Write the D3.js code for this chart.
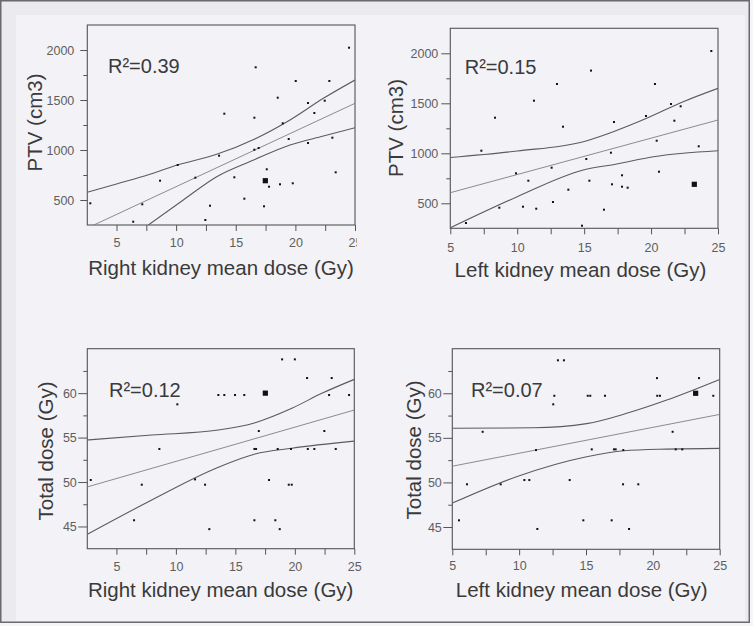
<!DOCTYPE html>
<html><head><meta charset="utf-8">
<script src="https://cdn.jsdelivr.net/npm/d3@7"></script>
<style>body{margin:0;background:#f4f4f6}svg{display:block}</style>
</head><body><svg id="c" width="753" height="626"></svg>
<script>
// ---------- data ----------
const rightDoseTicks = [5, 10, 15, 20, 25];
const leftDoseTicks = [5, 10, 15, 20, 25];
const doseMinorTicks = [7.5, 12.5, 17.5, 22.5];
const ptvTicks = [500, 1000, 1500, 2000];
const ptvMinorTicks = [750, 1250, 1750];
const totalTicks = [45, 50, 55, 60];
const totalMinorTicks = [47.5, 52.5, 57.5, 62.5];

// Panel 1: PTV vs right kidney mean dose
const p1X = [2.8, 6.4, 7.16, 8.65, 10.13, 11.61, 12.45, 12.84, 13.6, 14.04, 14.88, 15.72, 16.56, 16.67, 16.56, 16.92, 17.37, 17.6, 17.79, 18.52, 18.71, 18.94, 19.44, 19.78, 20.03, 21.06, 21.06, 21.59, 22.46, 22.85, 23.1, 23.38, 24.5];
const p1Y = [467, 283, 457, 693, 850, 723, 300, 443, 943, 1363, 727, 513, 1323, 1827, 1003, 1020, 437, 807, 633, 1523, 657, 1267, 1110, 667, 1690, 1470, 1070, 1370, 1493, 1690, 1123, 777, 2023];
const p1Big = [17.48, 693];
const p1Upper = [[2.55,577],[5,660],[7.8,757],[10.1,850],[13.4,957],[16.6,1110],[19.55,1300],[22.35,1517],[25,1700]];
const p1Fit = [[3.1,250],[25,1467]];
const p1Lower = [[7.67,250],[10.6,500],[13.4,733],[16.5,900],[19.55,1050],[22.35,1140],[25,1223]];

// Panel 2: PTV vs left kidney mean dose
const p2X = [6.17, 7.32, 8.34, 8.66, 9.91, 10.43, 10.83, 11.25, 11.42, 12.57, 12.67, 12.97, 13.42, 13.82, 14.84, 15.16, 15.39, 15.51, 16.48, 17.0, 17.08, 17.23, 17.83, 17.83, 18.25, 19.62, 20.29, 20.42, 20.59, 21.49, 21.74, 22.21, 23.56, 24.5];
const p2Y = [303, 1026, 1356, 456, 800, 466, 726, 1526, 446, 856, 513, 1693, 1266, 636, 276, 943, 726, 1827, 436, 1006, 690, 1313, 780, 666, 656, 1373, 1693, 1126, 816, 1493, 1326, 1470, 1070, 2023];
const p2Big = [23.23, 690];
const p2Upper = [[5,958],[10,1023],[14.94,1116],[17.18,1216],[19.67,1350],[22.4,1516],[25,1650]];
const p2Fit = [[5,606],[25,1333]];
const p2Lower = [[5,255],[10,566],[14.94,833],[17.43,893],[20.17,966],[25,1026]];

// Panel 3: Total dose vs right kidney mean dose
const p3X = [2.84, 6.48, 7.13, 8.61, 10.12, 11.61, 12.45, 12.81, 13.57, 14.07, 14.97, 15.75, 16.6, 16.74, 16.6, 16.97, 17.83, 18.36, 18.56, 18.73, 18.93, 19.49, 19.68, 19.74, 20.0, 21.03, 21.09, 21.64, 22.48, 22.88, 23.1, 23.44, 24.56];
const p3Y = [50.23, 45.7, 49.7, 53.72, 58.74, 50.3, 49.7, 44.7, 59.79, 59.79, 59.79, 59.79, 53.72, 53.72, 45.7, 55.74, 50.23, 45.7, 53.72, 44.7, 63.8, 49.7, 53.72, 49.7, 63.8, 61.7, 53.72, 53.72, 55.74, 59.79, 61.7, 53.72, 59.79];
const p3Big = [17.52, 60];
const p3Upper = [[2.55,54.73],[7.97,55.29],[13.57,55.85],[16.66,56.68],[19.75,58.3],[22.27,59.98],[25,61.55]];
const p3Fit = [[2.55,49.45],[25,58.1]];
const p3Lower = [[2.55,44.12],[7.97,47.98],[13.57,51.66],[16.66,53.15],[19.75,53.8],[25,54.6]];

// Panel 4: Total dose vs left kidney mean dose
const p4X = [5.5, 6.1, 7.27, 8.62, 10.39, 10.76, 11.26, 11.36, 12.55, 12.63, 12.9, 13.35, 13.78, 14.8, 15.13, 15.32, 15.43, 16.42, 16.92, 17.09, 17.22, 17.77, 17.79, 18.22, 18.91, 20.31, 20.33, 20.53, 21.48, 21.71, 22.2, 23.45, 24.52];
const p4Y = [45.75, 49.79, 55.68, 49.79, 50.27, 50.27, 53.63, 44.78, 58.76, 59.72, 63.7, 63.7, 50.27, 45.75, 59.72, 59.72, 53.71, 59.72, 45.75, 53.71, 53.71, 49.79, 53.63, 44.78, 49.79, 61.7, 59.72, 59.72, 55.68, 53.71, 53.71, 61.7, 59.72];
const p4Big = [23.2, 60];
const p4Upper = [[5,56.07],[11.06,56.13],[15.05,56.6],[18.04,57.75],[21.04,59.24],[25,61.55]];
const p4Fit = [[5,51.82],[25,57.63]];
const p4Lower = [[5,47.68],[9.8,50.64],[15.05,52.88],[17.8,53.55],[21.04,53.74],[25,53.82]];

const r2Labels = ["R\u00b2=0.39", "R\u00b2=0.15", "R\u00b2=0.12", "R\u00b2=0.07"];
const xLabels = ["Right kidney mean dose (Gy)", "Left kidney mean dose (Gy)", "Right kidney mean dose (Gy)", "Left kidney mean dose (Gy)"];
const yLabels = ["PTV (cm3)", "PTV (cm3)", "Total dose (Gy)", "Total dose (Gy)"];

// ---------- drawing ----------
const FONT = "'Liberation Sans', Arial, sans-serif";
const svg = d3.select("#c");
svg.append("rect").attr("width", 753).attr("height", 626).attr("fill", "#f5f5f7");
svg.append("rect").attr("x", 0.75).attr("y", 0.75).attr("width", 748.5).attr("height", 621.5)
  .attr("fill", "#eaeaef").attr("stroke", "#6a6a6a").attr("stroke-width", 1.5);
svg.append("rect").attr("x", 16).attr("y", 15).attr("width", 729).attr("height", 606).attr("fill", "#f2f2f7");

const panels = [
  {xs:p1X, ys:p1Y, big:p1Big, upper:p1Upper, fit:p1Fit, lower:p1Lower,
   xd:[2.55,25], yd:[250,2250], xt:rightDoseTicks, yt:ptvTicks, ym:ptvMinorTicks,
   box:{l:87.3,r:355,t:25,b:225}, ytSize:7, ytPad:6, xtPad:6.8,
   r2:[20.7,47.7], xl:[221,274.7], yl:[41.8,122.5], clipRight:357},
  {xs:p2X, ys:p2Y, big:p2Big, upper:p2Upper, fit:p2Fit, lower:p2Lower,
   xd:[5,25], yd:[250,2250], xt:leftDoseTicks, yt:ptvTicks, ym:ptvMinorTicks,
   box:{l:450.3,r:718,t:28.3,b:228.3}, ytSize:9, ytPad:3, xtPad:8.9,
   r2:[14.4,45.7], xl:[580.5,276.7], yl:[402.5,128], clipRight:null},
  {xs:p3X, ys:p3Y, big:p3Big, upper:p3Upper, fit:p3Fit, lower:p3Lower,
   xd:[2.55,25], yd:[42.5,65], xt:rightDoseTicks, yt:totalTicks, ym:totalMinorTicks,
   box:{l:87.3,r:354.3,t:348.7,b:548.7}, ytSize:9, ytPad:1.5, xtPad:7.8,
   r2:[21.7,48.6], xl:[220.7,597], yl:[53,451], clipRight:null},
  {xs:p4X, ys:p4Y, big:p4Big, upper:p4Upper, fit:p4Fit, lower:p4Lower,
   xd:[5,25], yd:[42.5,65], xt:leftDoseTicks, yt:totalTicks, ym:totalMinorTicks,
   box:{l:452.3,r:719.7,t:348.7,b:549.3}, ytSize:9, ytPad:1.5, xtPad:6.2,
   r2:[18.7,48.6], xl:[581.7,597], yl:[420.8,450], clipRight:null}
];

const defs = svg.append("defs");

panels.forEach((p, i) => {
  const {l, r, t, b} = p.box;
  const x = d3.scaleLinear().domain(p.xd).range([l, r]);
  const y = d3.scaleLinear().domain(p.yd).range([b, t]);
  const g = svg.append("g");

  defs.append("clipPath").attr("id", "plot" + i)
    .append("rect").attr("x", l).attr("y", t).attr("width", r - l).attr("height", b - t);

  const xa = g.append("g").attr("transform", `translate(0,${b})`)
    .call(d3.axisBottom(x).tickValues(p.xt).tickSize(6).tickPadding(p.xtPad).tickFormat(d3.format("d")));
  g.append("g").attr("transform", `translate(0,${b})`)
    .call(d3.axisBottom(x).tickValues(doseMinorTicks).tickSize(6).tickFormat(""));
  g.append("g").attr("transform", `translate(${l},0)`)
    .call(d3.axisLeft(y).tickValues(p.yt).tickSize(p.ytSize).tickPadding(p.ytPad).tickFormat(d3.format("d")));
  g.append("g").attr("transform", `translate(${l},0)`)
    .call(d3.axisLeft(y).tickValues(p.ym).tickSize(4).tickFormat(""));

  g.selectAll(".domain").remove();
  g.selectAll(".tick line").attr("stroke", "#555").attr("stroke-width", 1);
  g.selectAll(".tick text").attr("fill", "#5e5e5e").style("font-family", FONT).style("font-size", "12.5px");

  if (p.clipRight) {
    defs.append("clipPath").attr("id", "xlab" + i)
      .append("rect").attr("x", 0).attr("y", 0).attr("width", p.clipRight).attr("height", 626);
    xa.attr("clip-path", `url(#xlab${i})`);
  }

  g.append("rect").attr("x", l).attr("y", t).attr("width", r - l).attr("height", b - t)
    .attr("fill", "none").attr("stroke", "#555").attr("stroke-width", 1.1);

  const lineGen = d3.line().x(d => x(d[0])).y(d => y(d[1]));
  const curveGen = d3.line().x(d => x(d[0])).y(d => y(d[1])).curve(d3.curveMonotoneX);
  const lg = g.append("g").attr("clip-path", `url(#plot${i})`);
  lg.append("path").datum(p.upper).attr("d", curveGen).attr("fill", "none").attr("stroke", "#5c5c5c").attr("stroke-width", 1.1);
  lg.append("path").datum(p.lower).attr("d", curveGen).attr("fill", "none").attr("stroke", "#5c5c5c").attr("stroke-width", 1.1);
  lg.append("path").datum(p.fit).attr("d", lineGen).attr("fill", "none").attr("stroke", "#808080").attr("stroke-width", 0.9);

  const pts = p.xs.map((v, k) => [v, p.ys[k]]);
  g.append("g").selectAll("rect").data(pts).join("rect")
    .attr("x", d => x(d[0]) - 1).attr("y", d => y(d[1]) - 1)
    .attr("width", 2).attr("height", 2).attr("fill", "#111");
  g.append("rect").attr("x", x(p.big[0]) - 2.6).attr("y", y(p.big[1]) - 2.6)
    .attr("width", 5.2).attr("height", 5.2).attr("fill", "#111");

  g.append("text").attr("x", l + p.r2[0]).attr("y", t + p.r2[1])
    .style("font-family", FONT).style("font-size", "20px").attr("fill", "#3a3a3a").text(r2Labels[i]);
  g.append("text").attr("x", p.xl[0]).attr("y", p.xl[1]).attr("text-anchor", "middle")
    .style("font-family", FONT).style("font-size", "20.5px").attr("fill", "#3a3a3a").text(xLabels[i]);
  g.append("text").attr("transform", `translate(${p.yl[0]},${p.yl[1]}) rotate(-90)`).attr("text-anchor", "middle")
    .style("font-family", FONT).style("font-size", "20.5px").attr("fill", "#3a3a3a").text(yLabels[i]);
});
</script></body></html>
